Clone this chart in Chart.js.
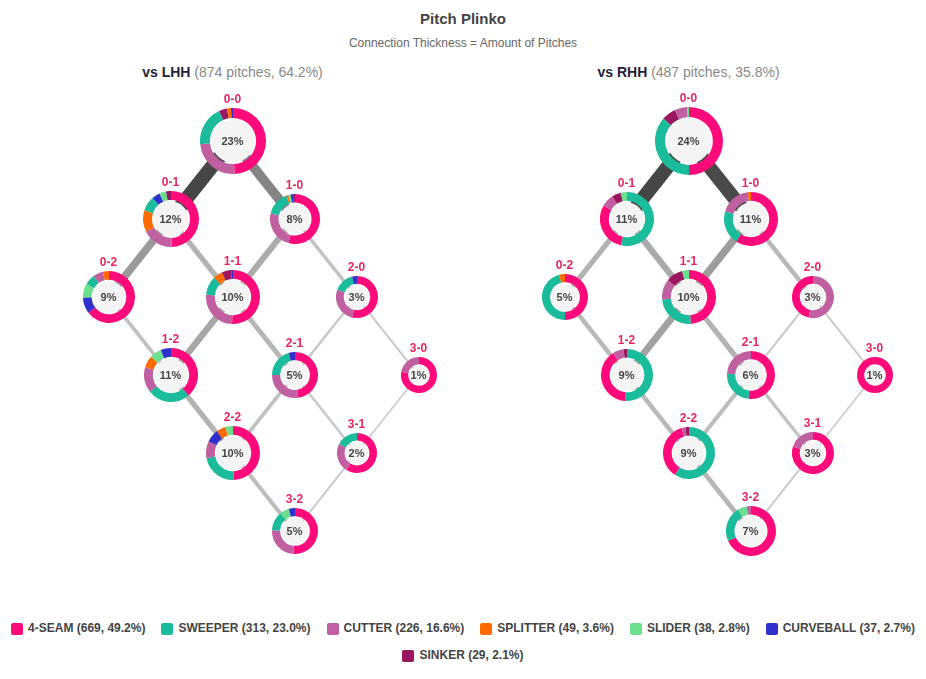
<!DOCTYPE html>
<html>
<head>
<meta charset="utf-8">
<title>Pitch Plinko</title>
<script src="https://cdn.jsdelivr.net/npm/chart.js@4.4.1/dist/chart.umd.min.js"></script>
<style>
  body { margin: 0; background: #fff; font-family: "Helvetica Neue", Helvetica, Arial, "Liberation Sans", sans-serif; }
  #wrap { position: relative; width: 926px; height: 679px; overflow: hidden; }
  .title { position: absolute; left: 0; width: 926px; text-align: center; top: 10px; font-size: 15px; font-weight: bold; color: #444; }
  .subtitle { position: absolute; left: 0; width: 926px; text-align: center; top: 36px; font-size: 12px; color: #666; }
  .panelTitle { position: absolute; top: 64px; width: 465px; text-align: center; font-size: 14px; color: #888; }
  .panelTitle b { color: #1f1f3a; }
  canvas.links { position: absolute; }
  .node { position: absolute; }
  .node canvas { position: absolute; left: 0; top: 0; }
  .pct { position: absolute; left: 0; width: 100%; text-align: center; font-size: 11px; font-weight: bold; color: #444; line-height: 14px; }
  .countLbl { position: absolute; width: 40px; text-align: center; font-size: 12px; font-weight: bold; color: #e8265e; line-height: 14px; }
  #legend { position: absolute; left: 0; top: 621px; width: 926px; display: flex; flex-wrap: wrap; justify-content: center; row-gap: 12px; column-gap: 16px; }
  .item { display: flex; align-items: center; font-size: 12px; font-weight: bold; color: #444; line-height: 15px; }
  .box { width: 12px; height: 12px; border-radius: 2px; margin-right: 5px; }
</style>
</head>
<body>
<div id="wrap">
  <div class="title">Pitch Plinko</div>
  <div class="subtitle">Connection Thickness = Amount of Pitches</div>
  <div id="legend"></div>
</div>
<script>
// pitch types, in legend order
const pitchTypes = ['4-SEAM', 'SWEEPER', 'CUTTER', 'SPLITTER', 'SLIDER', 'CURVEBALL', 'SINKER'];
const pitchColors = ['#ff0a7a', '#1abc9c', '#c060a0', '#ff6a00', '#6ae08c', '#3030cc', '#9b1660'];
const pitchTotals = [669, 313, 226, 49, 38, 37, 29];

// counts (balls-strikes)
const counts = ['0-0', '0-1', '1-0', '0-2', '1-1', '2-0', '1-2', '2-1', '3-0', '2-2', '3-1', '3-2'];

// pitch mix at each count, same order as pitchTypes
const lhhMix = [
    [100, 40, 49, 4, 0, 2, 8],
    [52, 9, 19, 13, 4, 5, 3],
    [38, 11, 17, 1, 1, 1, 1],
    [51, 5, 5, 3, 7, 8, 0],
    [45, 10, 23, 5, 0, 1, 5],
    [14, 4, 7, 0, 0, 1, 0],
    [38, 25, 15, 7, 7, 6, 0],
    [21, 9, 12, 0, 0, 2, 0],
    [7, 0, 2, 0, 0, 0, 0],
    [44, 20, 9, 5, 4, 7, 0],
    [10, 3, 4, 0, 0, 0, 0],
    [23, 6, 11, 0, 3, 2, 0]
];
const rhhMix = [
    [59, 43, 7, 0, 1, 0, 8],
    [16, 29, 4, 0, 2, 0, 3],
    [32, 11, 10, 1, 0, 0, 0],
    [12, 11, 0, 1, 0, 0, 0],
    [24, 12, 6, 0, 2, 0, 5],
    [7, 0, 8, 0, 0, 0, 0],
    [18, 23, 3, 0, 0, 0, 1],
    [15, 7, 7, 0, 0, 0, 0],
    [5, 0, 0, 0, 0, 0, 0],
    [16, 26, 1, 0, 0, 0, 1],
    [12, 0, 3, 0, 0, 0, 0],
    [24, 8, 1, 0, 2, 0, 0]
];

// count transitions and how many pitches took them
const links = [
    ['0-0', '0-1'], ['0-0', '1-0'], ['0-1', '0-2'], ['0-1', '1-1'], ['1-0', '1-1'], ['1-0', '2-0'],
    ['0-2', '1-2'], ['1-1', '1-2'], ['1-1', '2-1'], ['2-0', '2-1'], ['2-0', '3-0'], ['1-2', '2-2'],
    ['2-1', '2-2'], ['2-1', '3-1'], ['3-0', '3-1'], ['2-2', '3-2'], ['3-1', '3-2']
];
const lhhLinks = [105, 70, 55, 35, 42, 20, 22, 45, 32, 12, 9, 35, 22, 12, 6, 25, 8];
const rhhLinks = [54, 53, 18, 22, 27, 15, 15, 25, 18, 5, 4, 15, 13, 10, 3, 16, 4];

const PANEL_W = 465, PANEL_H = 500, PANEL_TOP = 86;
const wrap = document.getElementById('wrap');
const grandTotal = pitchTotals.reduce((a, b) => a + b, 0);

function sum(arr) { return arr.reduce((a, b) => a + b, 0); }

// x = balls - strikes, y = balls + strikes
function pos(c) {
    const [b, s] = c.split('-').map(Number);
    return { x: b - s, y: b + s };
}

function linkGray(r) {
    const g = Math.round(205 - 135 * Math.pow(r, 1.5));
    return 'rgb(' + g + ',' + g + ',' + g + ')';
}

const innerFill = {
    id: 'innerFill',
    beforeDatasetsDraw(chart) {
        const arc = chart.getDatasetMeta(0).data[0];
        if (!arc) return;
        const ctx = chart.ctx;
        ctx.save();
        ctx.beginPath();
        ctx.arc(arc.x, arc.y, Math.max(arc.innerRadius - 1.5, 0), 0, Math.PI * 2);
        ctx.fillStyle = '#f4f4f4';
        ctx.fill();
        ctx.restore();
    }
};

function drawPanel(label, left, mix, linkVals) {
    const total = mix.reduce((a, m) => a + sum(m), 0);

    const head = document.createElement('div');
    head.className = 'panelTitle';
    head.style.left = left + 'px';
    head.innerHTML = '<b>' + label + '</b> (' + total + ' pitches, ' + (total / grandTotal * 100).toFixed(1) + '%)';
    wrap.appendChild(head);

    const cv = document.createElement('canvas');
    cv.className = 'links';
    cv.width = PANEL_W;
    cv.height = PANEL_H;
    cv.style.left = left + 'px';
    cv.style.top = PANEL_TOP + 'px';
    wrap.appendChild(cv);

    const maxLink = Math.max(...linkVals);
    const datasets = links.map((l, i) => {
        const r = linkVals[i] / maxLink;
        return {
            data: [pos(l[0]), pos(l[1])],
            showLine: true,
            borderWidth: 1 + 13 * r,
            borderColor: linkGray(r),
            borderCapStyle: 'butt',
            pointRadius: 0
        };
    });

    const chart = new Chart(cv, {
        type: 'scatter',
        data: { datasets: datasets },
        options: {
            responsive: false,
            animation: false,
            events: [],
            layout: { padding: 0 },
            plugins: { legend: { display: false }, tooltip: { enabled: false } },
            scales: {
                x: { type: 'linear', display: false, min: -3.75, max: 3.75 },
                y: { type: 'linear', display: false, min: -0.7, max: 5.7, reverse: true }
            }
        }
    });

    counts.forEach((c, i) => {
        const n = sum(mix[i]);
        const pct = n / total * 100;
        const R = Math.round(14 + 4 * Math.sqrt(pct));
        const ring = 4 + 0.18 * R;
        const p = pos(c);
        const cx = left + chart.scales.x.getPixelForValue(p.x);
        const cy = PANEL_TOP + chart.scales.y.getPixelForValue(p.y);

        const order = mix[i].map((v, k) => k).filter(k => mix[i][k] > 0)
            .sort((a, b) => mix[i][b] - mix[i][a]);

        const node = document.createElement('div');
        node.className = 'node';
        node.style.left = (cx - R) + 'px';
        node.style.top = (cy - R) + 'px';
        node.style.width = (2 * R) + 'px';
        node.style.height = (2 * R) + 'px';
        const nc = document.createElement('canvas');
        nc.width = 2 * R;
        nc.height = 2 * R;
        node.appendChild(nc);
        const txt = document.createElement('div');
        txt.className = 'pct';
        txt.style.top = (R - 7) + 'px';
        txt.textContent = Math.round(pct) + '%';
        node.appendChild(txt);
        wrap.appendChild(node);

        new Chart(nc, {
            type: 'doughnut',
            data: {
                labels: order.map(k => pitchTypes[k]),
                datasets: [{
                    data: order.map(k => mix[i][k]),
                    backgroundColor: order.map(k => pitchColors[k]),
                    borderWidth: 0,
                    hoverOffset: 0
                }]
            },
            options: {
                responsive: false,
                animation: false,
                events: [],
                cutout: R - ring,
                layout: { padding: 0 },
                plugins: { legend: { display: false }, tooltip: { enabled: false } }
            },
            plugins: [innerFill]
        });

        const lbl = document.createElement('div');
        lbl.className = 'countLbl';
        lbl.style.left = (cx - 20) + 'px';
        lbl.style.top = (cy - R - 16) + 'px';
        lbl.textContent = c;
        wrap.appendChild(lbl);
    });
}

drawPanel('vs LHH', 0, lhhMix, lhhLinks);
drawPanel('vs RHH', 456, rhhMix, rhhLinks);

// legend
const legend = document.getElementById('legend');
pitchTypes.forEach((t, k) => {
    const item = document.createElement('div');
    item.className = 'item';
    item.innerHTML = '<span class="box" style="background:' + pitchColors[k] + '"></span>' +
        t + ' (' + pitchTotals[k] + ', ' + (pitchTotals[k] / grandTotal * 100).toFixed(1) + '%)';
    legend.appendChild(item);
});
</script>
</body>
</html>
